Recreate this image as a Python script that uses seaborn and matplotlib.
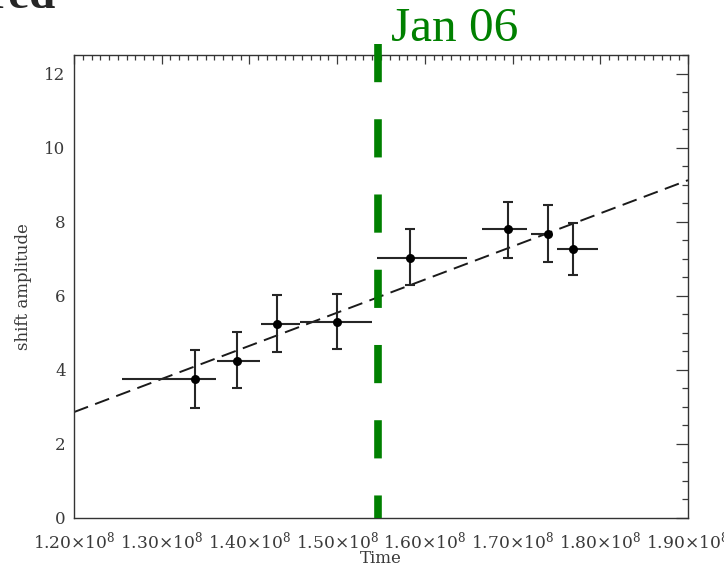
import numpy as np
import pandas as pd
import matplotlib
matplotlib.use("Agg")
import matplotlib.pyplot as plt
from matplotlib.ticker import MultipleLocator, FuncFormatter
import seaborn as sns

# ---- data ----
time_center = [1.338e8, 1.3855e8, 1.431e8, 1.4995e8, 1.583e8, 1.6945e8, 1.7408e8, 1.7693e8]
time_low = [1.2544e8, 1.3627e8, 1.4132e8, 1.4577e8, 1.5452e8, 1.6649e8, 1.7208e8, 1.7504e8]
time_high = [1.3616e8, 1.4121e8, 1.4577e8, 1.5395e8, 1.6478e8, 1.7162e8, 1.7447e8, 1.7978e8]
amp = [3.74, 4.24, 5.25, 5.29, 7.02, 7.79, 7.68, 7.25]
amp_low = [2.97, 3.50, 4.47, 4.55, 6.28, 7.02, 6.91, 6.55]
amp_high = [4.53, 5.01, 6.03, 6.06, 7.79, 8.53, 8.46, 7.96]
fit_time = [1.20e8, 1.90e8]
fit_amp = [2.86, 9.12]
event_time = 1.547e8
event_label = "Jan 06"
event_top = 12.81
x_ticks = [1.20e8, 1.30e8, 1.40e8, 1.50e8, 1.60e8, 1.70e8, 1.80e8, 1.90e8]
y_ticks = [0, 2, 4, 6, 8, 10, 12]

df = pd.DataFrame({"time": time_center, "amp": amp})
fit_df = pd.DataFrame({"time": fit_time, "amp": fit_amp})

sns.set_style("white")
plt.rcParams["font.family"] = ["DejaVu Serif"]
plt.rcParams["mathtext.fontset"] = "dejavuserif"

fig = plt.figure(figsize=(7.24, 5.69), dpi=100)
ax = fig.add_axes([74/724, 1 - 518/569, 614/724, 463/569])

tc = np.array(time_center)
xerr = np.vstack([tc - np.array(time_low), np.array(time_high) - tc])
am = np.array(amp)
yerr = np.vstack([am - np.array(amp_low), np.array(amp_high) - am])

ecol = "#262626"
ax.errorbar(tc, am, xerr=xerr, fmt="none", ecolor=ecol, elinewidth=1.5, capsize=0, zorder=3)
ax.errorbar(tc, am, yerr=yerr, fmt="none", ecolor=ecol, elinewidth=1.5, capsize=3.5,
            capthick=1.5, zorder=3)
sns.scatterplot(data=df, x="time", y="amp", ax=ax, color="black", s=42,
                edgecolor="black", linewidth=0, zorder=4)
sns.lineplot(data=fit_df, x="time", y="amp", ax=ax, color="#1a1a1a", lw=1.4,
             dashes=False, zorder=2).lines[-1].set_dashes((7.7, 3.9))

# event line
ax.plot([event_time, event_time], [event_top, 0], color="#008000", lw=5.5,
        dashes=(5.0, 4.85), solid_capstyle="butt", dash_capstyle="butt",
        clip_on=False, zorder=5)
ax.text(event_time + 0.0145e8, 12.88, event_label, color="#008000",
        fontsize=35.5, family=["Liberation Serif"], ha="left", va="baseline",
        transform=ax.transData, clip_on=False)

fig.text(56/724, 1 - 8/569, "red", fontsize=34, fontweight="bold",
         family=["Liberation Serif"], ha="right", va="baseline")

ax.set_xlim(1.20e8, 1.90e8)
ax.set_ylim(0, 12.5)
ax.set_xticks(x_ticks)
ax.set_yticks(y_ticks)
ax.xaxis.set_minor_locator(MultipleLocator(0.01e8))
ax.yaxis.set_minor_locator(MultipleLocator(0.5))
ax.xaxis.set_major_formatter(FuncFormatter(lambda v, p: f"{v/1e8:.2f}\u00d710$^{{8}}$"))
ax.yaxis.set_major_formatter(FuncFormatter(lambda v, p: f"{v:.0f}"))

ax.tick_params(axis="both", which="both", direction="in", top=True, right=True,
               colors="#3a3a3a", width=0.9)
ax.tick_params(axis="x", which="major", length=6.5, pad=9, labelsize=12.3)
ax.tick_params(axis="x", which="minor", length=3.3)
ax.tick_params(axis="y", which="major", length=8.6, pad=6, labelsize=12)
ax.tick_params(axis="y", which="minor", length=4.3)
for s in ax.spines.values():
    s.set_color("#333333")
    s.set_linewidth(1.0)

ax.set_xlabel("Time", fontsize=12, color="#3a3a3a")
ax.set_ylabel("shift amplitude", fontsize=12, color="#3a3a3a")
ax.xaxis.set_label_coords(0.5, -0.07)
ax.yaxis.set_label_coords(-0.068, 0.5)

fig.savefig("out.png", dpi=100)
